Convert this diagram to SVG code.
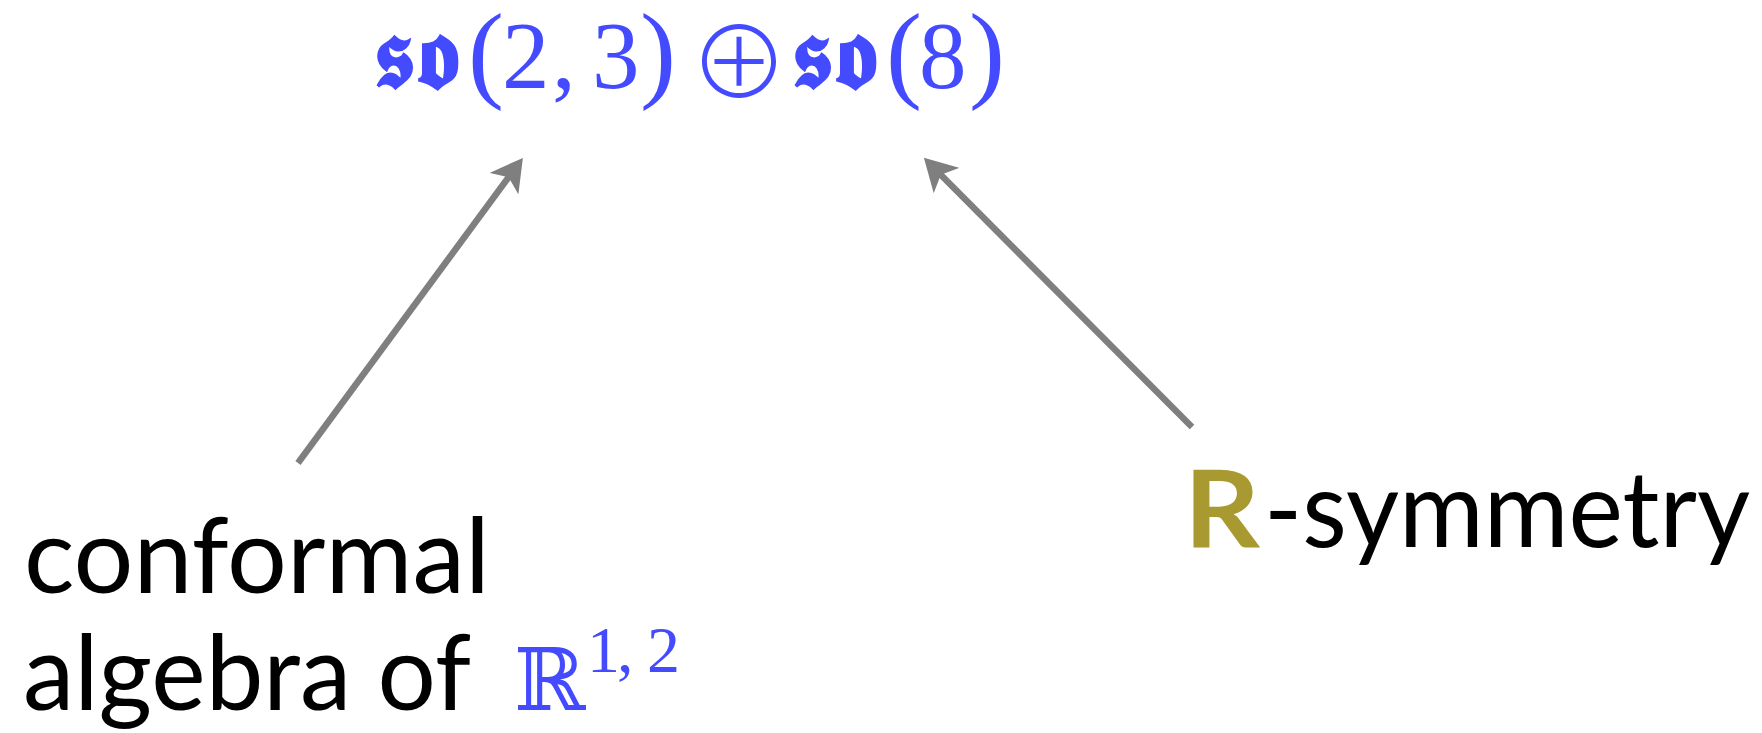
<svg xmlns="http://www.w3.org/2000/svg" width="1762" height="733" viewBox="0 0 1762 733">
<style>
.math{fill:#444bff;font-family:"Liberation Serif","DejaVu Serif",serif;}
.frak{fill:#444bff;font-family:"DejaVu Serif","DejaVu Sans","Noto Sans",serif;font-weight:bold;font-size:100px;}
.label{fill:#000;font-family:Lato,"Open Sans",sans-serif;font-size:105px;}
.conn{stroke:#7f7f7f;stroke-width:6.5;fill:none;}
</style>
<defs>
<marker id="ah" viewBox="0 0 32 36" refX="12" refY="18" markerWidth="32" markerHeight="36" markerUnits="userSpaceOnUse" orient="auto">
<path d="M0,0 L32,18 L0,36 L8,18 z" fill="#7f7f7f"/>
</marker>
</defs>
<rect width="1762" height="733" fill="#fff"/>
<g id="formula">
<text class="frak" x="373" y="88" textLength="86" lengthAdjust="spacingAndGlyphs">𝖘𝖔</text>
<text class="math" y="88"><tspan x="468" font-size="108">(</tspan><tspan x="502" font-size="95">2</tspan><tspan x="552" font-size="95">,</tspan><tspan x="592" font-size="95">3</tspan><tspan x="640" font-size="108">)</tspan></text>
<text x="689" y="99" font-size="100" font-weight="200" fill="#444bff" style="font-family:'Noto Sans CJK JP','DejaVu Sans',sans-serif">⊕</text>
<text class="frak" x="791" y="88" textLength="86" lengthAdjust="spacingAndGlyphs">𝖘𝖔</text>
<text class="math" y="88"><tspan x="886" font-size="108">(</tspan><tspan x="919" font-size="95">8</tspan><tspan x="969" font-size="108">)</tspan></text>
</g>
<g id="conformal">
<text class="label" x="24" y="593" textLength="466" lengthAdjust="spacingAndGlyphs">conformal</text>
<text class="label" x="23" y="710" textLength="448" lengthAdjust="spacingAndGlyphs">algebra of</text>
<text x="514" y="710" font-size="86" fill="#444bff" style="font-family:'DejaVu Serif',serif">ℝ</text>
<text class="math" y="672" font-size="66"><tspan x="587">1</tspan><tspan x="617">,</tspan><tspan x="647">2</tspan></text>
</g>
<g id="rsymmetry">
<text class="label" x="1184" y="547" font-size="107" font-weight="bold" style="fill:#a89a30;font-size:107px" textLength="76" lengthAdjust="spacingAndGlyphs">R</text>
<text class="label" x="1264" y="547" style="font-size:107px" textLength="486" lengthAdjust="spacingAndGlyphs">-symmetry</text>
</g>
<g id="connectors">
<line class="conn" x1="298" y1="463" x2="511" y2="174" marker-end="url(#ah)"/>
<line class="conn" x1="1192" y1="427" x2="938" y2="172" marker-end="url(#ah)"/>
</g>
</svg>
